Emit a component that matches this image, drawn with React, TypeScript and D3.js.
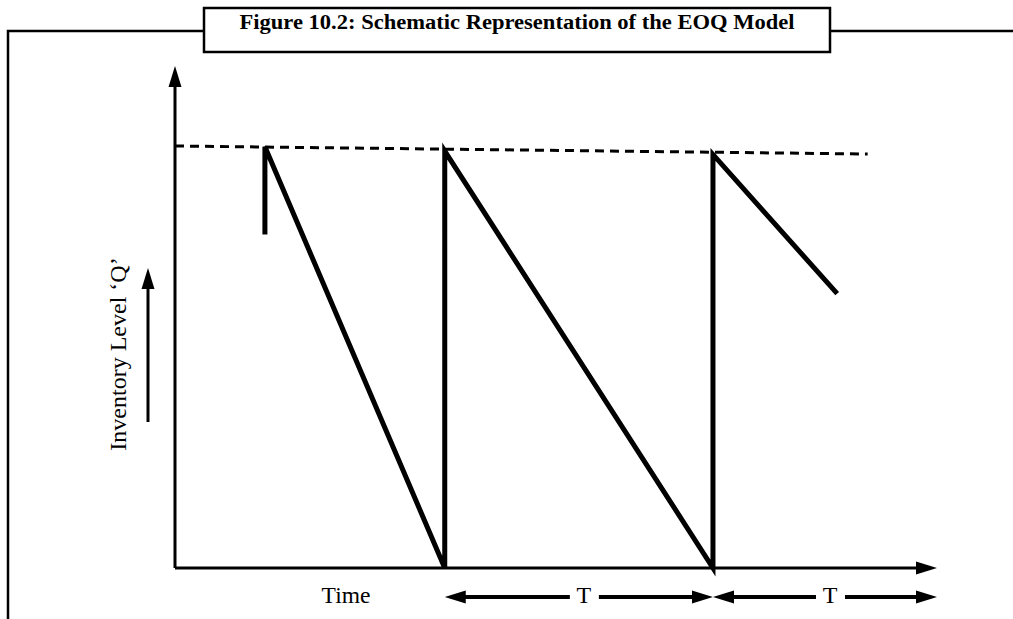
import React from "react";
import * as d3 from "d3";

const W = 1013;
const H = 619;

const TITLE = "Figure 10.2: Schematic Representation of the EOQ Model";
const Y_LABEL = "Inventory Level \u2018Q\u2019";
const X_LABEL = "Time";
const CYCLE_LABEL = "T";

// Sawtooth inventory path: [time, level]
const sawTime = [1.18, 1.18, 3.54, 3.54, 7.06, 7.06, 8.69];
const sawLevel = [79, 99.8, 0, 98.8, 0, 98, 65];

// Dashed maximum inventory line
const dashTime = [0, 9.09];
const dashLevel = [100, 98.1];

// Cycle arrows (T) under the time axis
const cycleStart = [3.54, 7.06];
const cycleEnd = [7.06, 10];

export default function App() {
  const x = d3.scaleLinear().domain([0, 10]).range([175, 937]);
  const y = d3.scaleLinear().domain([0, 100]).range([568, 146]);
  const line = d3.line<[number, number]>().x((d) => x(d[0])).y((d) => y(d[1]));

  const sawPts: [number, number][] = sawTime.map((t, i) => [t, sawLevel[i]]);
  const dashPts: [number, number][] = dashTime.map((t, i) => [t, dashLevel[i]]);

  const serif = "'Liberation Serif', 'Times New Roman', serif";
  const x0 = x(0);
  const y0 = y(0);
  const yTop = 66;
  const xEnd = x(10);
  const tY = 597;

  const boxL = 204;
  const boxR = 830;

  const arrowRight = (tipX: number, cy: number, len = 21, half = 6.5) =>
    `M${tipX},${cy} L${tipX - len},${cy - half} L${tipX - len},${cy + half} Z`;
  const arrowLeft = (tipX: number, cy: number, len = 21, half = 6.5) =>
    `M${tipX},${cy} L${tipX + len},${cy - half} L${tipX + len},${cy + half} Z`;
  const arrowUp = (cx: number, tipY: number, len = 21, half = 6.5) =>
    `M${cx},${tipY} L${cx - half},${tipY + len} L${cx + half},${tipY + len} Z`;

  return (
    <svg
      width={W}
      height={H}
      style={{ position: "absolute", left: 0, top: 0, background: "#fff" }}
    >
      {/* Frame */}
      <path d={`M8,${H} L8,31 L${boxL},31`} fill="none" stroke="#000" strokeWidth={2.5} />
      <path d={`M${boxR},31 L${W},31`} fill="none" stroke="#000" strokeWidth={2.5} />
      <rect x={boxL} y={8} width={boxR - boxL} height={44} fill="#fff" stroke="#000" strokeWidth={2.5} />
      <text
        x={(boxL + boxR) / 2}
        y={29}
        textAnchor="middle"
        fontFamily={serif}
        fontWeight="bold"
        fontSize={20}
        textLength={555}
        lengthAdjust="spacingAndGlyphs"
        fill="#000"
      >
        {TITLE}
      </text>

      {/* Axes */}
      <line x1={x0} y1={y0} x2={x0} y2={yTop + 18} stroke="#000" strokeWidth={3} />
      <path d={arrowUp(x0, yTop)} fill="#000" />
      <line x1={x0} y1={y0} x2={xEnd - 18} y2={y0} stroke="#000" strokeWidth={3} />
      <path d={arrowRight(xEnd, y0)} fill="#000" />

      {/* Dashed max line */}
      <path
        d={line(dashPts) || ""}
        fill="none"
        stroke="#000"
        strokeWidth={3}
        strokeDasharray="9 6"
      />

      {/* Sawtooth */}
      <path
        d={line(sawPts) || ""}
        fill="none"
        stroke="#000"
        strokeWidth={5}
        strokeLinejoin="miter"
      />

      {/* Y label */}
      <text
        transform={`translate(126,354) rotate(-90)`}
        textAnchor="middle"
        fontFamily={serif}
        fontSize={24}
        fill="#000"
      >
        {Y_LABEL}
      </text>
      <line x1={148} y1={422} x2={148} y2={285} stroke="#000" strokeWidth={3} />
      <path d={arrowUp(148, 268)} fill="#000" />

      {/* X label */}
      <text x={346} y={603} textAnchor="middle" fontFamily={serif} fontSize={23.5} fill="#000">
        {X_LABEL}
      </text>

      {/* Cycle arrows */}
      {cycleStart.map((s, i) => {
        const a = x(s);
        const b = x(cycleEnd[i]);
        const mid = (a + b) / 2 + 5;
        return (
          <g key={i}>
            <line x1={a + 15} y1={tY} x2={mid - 14} y2={tY} stroke="#000" strokeWidth={4} />
            <line x1={mid + 15} y1={tY} x2={b - 15} y2={tY} stroke="#000" strokeWidth={4} />
            <path d={arrowLeft(a, tY)} fill="#000" />
            <path d={arrowRight(b, tY)} fill="#000" />
            <text
              x={mid}
              y={tY + 6}
              textAnchor="middle"
              fontFamily={serif}
              fontSize={24}
              fill="#000"
            >
              {CYCLE_LABEL}
            </text>
          </g>
        );
      })}
    </svg>
  );
}
